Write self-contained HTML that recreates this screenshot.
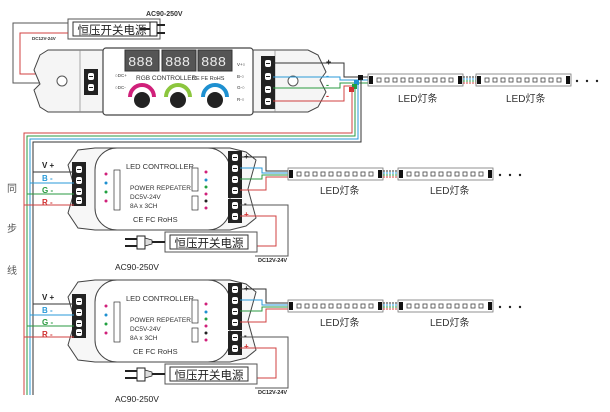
<!DOCTYPE html>
<html><head><meta charset="utf-8"><style>
html,body{margin:0;padding:0;background:#fff;}
svg{display:block;font-family:"Liberation Sans","Noto Sans CJK SC",sans-serif;}
</style></head><body>
<svg width="610" height="412" viewBox="0 0 610 412" xmlns="http://www.w3.org/2000/svg">
<defs>
<g id="term">
  <rect x="0" y="0" width="11" height="11" fill="#222"/>
  <rect x="2.5" y="2" width="6" height="7" rx="2" fill="#fff"/>
  <line x1="3.5" y1="5.5" x2="7.5" y2="5.5" stroke="#222" stroke-width="1"/>
</g>
<g id="strip">
  <rect x="0" y="0" width="95" height="12" fill="#fff" stroke="#777" stroke-width="0.8"/>
  <rect x="1" y="2" width="4" height="8" fill="#111"/>
  <rect x="90" y="2" width="4" height="8" fill="#111"/>
  <g fill="none" stroke="#444" stroke-width="0.8">
    <rect x="9" y="4" width="4" height="4"/><rect x="17" y="4" width="4" height="4"/><rect x="25" y="4" width="4" height="4"/><rect x="33" y="4" width="4" height="4"/><rect x="41" y="4" width="4" height="4"/><rect x="49" y="4" width="4" height="4"/><rect x="57" y="4" width="4" height="4"/><rect x="65" y="4" width="4" height="4"/><rect x="73" y="4" width="4" height="4"/><rect x="81" y="4" width="4" height="4"/>
  </g>
</g>
<g id="psu">
  <rect x="0" y="0" width="92" height="20" fill="#fff" stroke="#555" stroke-width="1"/>
  <rect x="5" y="3" width="78" height="14" fill="#fff" stroke="#333" stroke-width="1"/>
  <text x="44" y="15" font-size="11.5" text-anchor="middle" fill="#222">恒压开关电源</text>
</g>
<g id="slave">
  <!-- outer body -->
  <path d="M68,165 L78,150 L95,148 L230,148 L246,152 L256,160 L248,189 L256,218 L246,226 L230,230 L95,230 L78,228 L68,213 L75,189 Z" fill="#f7f7f7" stroke="#444" stroke-width="1"/>
  <rect x="95" y="148" width="135" height="82" rx="22" fill="#fff" stroke="#444" stroke-width="1"/>
  <rect x="72" y="162" width="14" height="44" fill="#222"/>
  <use href="#term" x="73.5" y="164"/><use href="#term" x="73.5" y="175"/><use href="#term" x="73.5" y="186"/><use href="#term" x="73.5" y="195"/>
  <rect x="228" y="151" width="14" height="47" fill="#222"/>
  <use href="#term" x="229.5" y="152"/><use href="#term" x="229.5" y="163"/><use href="#term" x="229.5" y="174"/><use href="#term" x="229.5" y="185"/>
  <rect x="228" y="199" width="14" height="24" fill="#222"/>
  <use href="#term" x="229.5" y="200"/><use href="#term" x="229.5" y="211"/>
  <text x="126" y="169" font-size="7.5" fill="#333">LED CONTROLLER</text>
  <text x="130" y="190" font-size="6.5" fill="#333">POWER REPEATER</text>
  <text x="130" y="199" font-size="6.5" fill="#333">DC5V-24V</text>
  <text x="130" y="208" font-size="6.5" fill="#333">8A x 3CH</text>
  <text x="133" y="222" font-size="7.5" fill="#333">CE FC RoHS</text>
  <rect x="114" y="170" width="6" height="40" fill="#fff" stroke="#333" stroke-width="0.7"/>
  <rect x="192" y="168" width="6" height="23" fill="#fff" stroke="#333" stroke-width="0.7"/>
  <rect x="192" y="196" width="6" height="14" fill="#fff" stroke="#333" stroke-width="0.7"/>
  <circle cx="106" cy="174" r="1.5" fill="#d0207a"/><circle cx="106" cy="183" r="1.5" fill="#1e90d0"/><circle cx="106" cy="192" r="1.5" fill="#20a040"/><circle cx="106" cy="201" r="1.5" fill="#d0207a"/>
  <circle cx="206" cy="172" r="1.5" fill="#d0207a"/><circle cx="206" cy="180" r="1.5" fill="#1e90d0"/><circle cx="206" cy="187" r="1.5" fill="#20a040"/><circle cx="206" cy="194" r="1.5" fill="#d0207a"/><circle cx="206" cy="201" r="1.5" fill="#222"/><circle cx="206" cy="208" r="1.5" fill="#d0207a"/>
  <!-- input labels -->
  <text x="42" y="168" font-size="8" font-weight="bold" fill="#222">V +</text>
  <text x="42" y="181" font-size="8" font-weight="bold" fill="#2a9ad8">B -</text>
  <text x="42" y="193" font-size="8" font-weight="bold" fill="#2a9a40">G -</text>
  <text x="42" y="205" font-size="8" font-weight="bold" fill="#d03030">R -</text>
  <line x1="33" y1="172" x2="74" y2="172" stroke="#333" stroke-width="1"/>
  <line x1="30" y1="183" x2="74" y2="183" stroke="#2a9ad8" stroke-width="1"/>
  <line x1="27" y1="194" x2="74" y2="194" stroke="#2a9a40" stroke-width="1"/>
  <line x1="24" y1="205" x2="74" y2="205" stroke="#d04040" stroke-width="1"/>
  <!-- output -->
  <text x="244" y="159" font-size="8" font-weight="bold" fill="#222">+</text>
  <text x="244" y="170" font-size="8" font-weight="bold" fill="#2a9ad8">-</text>
  <text x="244" y="181" font-size="8" font-weight="bold" fill="#2a9a40">-</text>
  <text x="244" y="192" font-size="8" font-weight="bold" fill="#d03030">-</text>
  <text x="244" y="206" font-size="8" font-weight="bold" fill="#222">-</text>
  <text x="244" y="217" font-size="8" font-weight="bold" fill="#d03030">+</text>
  <polyline points="240,157 266,157 266,171 290,171" fill="none" stroke="#333" stroke-width="1"/>
  <polyline points="240,168 262,168 262,173 290,173" fill="none" stroke="#2a9ad8" stroke-width="1"/>
  <polyline points="240,179 262,179 262,175 290,175" fill="none" stroke="#2a9a40" stroke-width="1"/>
  <polyline points="240,190 266,190 266,177 290,177" fill="none" stroke="#d04040" stroke-width="1"/>
  <polyline points="240,205 288,205 288,256 255,256" fill="none" stroke="#555" stroke-width="1"/>
  <polyline points="240,216 276,216 276,246 255,246" fill="none" stroke="#d04040" stroke-width="1"/>
  <use href="#strip" x="288" y="168"/>
  <g stroke-width="1">
    <line x1="383" y1="171" x2="400" y2="171" stroke="#333" stroke-dasharray="2,1"/>
    <line x1="383" y1="173" x2="400" y2="173" stroke="#2a9ad8" stroke-dasharray="2,1"/>
    <line x1="383" y1="175" x2="400" y2="175" stroke="#2a9a40" stroke-dasharray="2,1"/>
    <line x1="383" y1="177" x2="400" y2="177" stroke="#d04040" stroke-dasharray="2,1"/>
  </g>
  <use href="#strip" x="398" y="168"/>
  <circle cx="500" cy="175" r="1.2" fill="#222"/><circle cx="510" cy="175" r="1.2" fill="#222"/><circle cx="520" cy="175" r="1.2" fill="#222"/>
  <text x="320" y="194" font-size="10" fill="#333">LED灯条</text>
  <text x="430" y="194" font-size="10" fill="#333">LED灯条</text>
  <use href="#psu" x="165" y="232"/>
  <line x1="150" y1="242" x2="165" y2="242" stroke="#222" stroke-width="2"/>
  <rect x="137" y="236" width="8" height="13" fill="#fff" stroke="#222"/>
  <path d="M145,238 L152,240 L152,244 L145,246 Z" fill="#ddd" stroke="#222" stroke-width="0.7"/>
  <rect x="125" y="238" width="12" height="2" fill="#222"/><rect x="125" y="245" width="12" height="2" fill="#222"/>
  <text x="115" y="270" font-size="8.5" fill="#222">AC90-250V</text>
  <text x="258" y="262" font-size="5.5" font-weight="bold" fill="#222">DC12V-24V</text>
</g>
</defs>

<!-- top PSU -->
<use href="#psu" x="68" y="19"/>
<line x1="140" y1="29" x2="150" y2="29" stroke="#222" stroke-width="2"/>
<rect x="150" y="22" width="7" height="14" fill="#fff" stroke="#222"/>
<rect x="157" y="24" width="8" height="2" fill="#222"/><rect x="157" y="32" width="8" height="2" fill="#222"/>
<text x="146" y="16" font-size="7" font-weight="bold" fill="#333">AC90-250V</text>
<text x="32" y="40" font-size="4.5" font-weight="bold" fill="#333">DC12V-24V</text>
<polyline points="68,23 13,23 13,83 90,83" fill="none" stroke="#555" stroke-width="1"/>
<polyline points="68,33 20,33 20,74 90,74" fill="none" stroke="#d04040" stroke-width="1"/>

<!-- top controller body -->
<path d="M40,55 L48,50 L103,50 L103,112 L48,112 L40,107 L34,90 L40,84 L34,70 Z" fill="#f5f5f5" stroke="#444"/>
<path d="M252,50 L308,50 L318,55 L326,72 L320,80 L326,92 L318,107 L308,112 L252,112 Z" fill="#f5f5f5" stroke="#444"/>
<line x1="80" y1="50" x2="80" y2="112" stroke="#888" stroke-width="0.7"/>
<line x1="275" y1="50" x2="275" y2="112" stroke="#888" stroke-width="0.7"/>
<circle cx="62" cy="81" r="5" fill="#fff" stroke="#555"/>
<circle cx="293" cy="81" r="5" fill="#fff" stroke="#555"/>
<rect x="103" y="48" width="150" height="67" rx="3" fill="#fff" stroke="#444" stroke-width="1.2"/>
<rect x="84" y="69" width="14" height="26" fill="#222"/>
<use href="#term" x="85.5" y="71"/><use href="#term" x="85.5" y="82"/>
<rect x="261" y="56" width="14" height="53" fill="#222"/>
<use href="#term" x="262.5" y="58"/><use href="#term" x="262.5" y="71"/><use href="#term" x="262.5" y="84"/><use href="#term" x="262.5" y="96"/>
<g fill="#555" stroke="#333">
<rect x="125" y="50" width="34" height="21"/><rect x="162" y="50" width="34" height="21"/><rect x="198" y="50" width="34" height="21"/>
</g>
<g font-size="14" fill="#eee" font-family="Liberation Mono">
<text x="128" y="66">888</text><text x="165" y="66">888</text><text x="201" y="66">888</text>
</g>
<text x="136" y="80" font-size="6.5" fill="#333">RGB CONTROLLER</text>
<text x="192" y="80" font-size="5.5" fill="#333">CE FE RoHS</text>
<text x="115" y="77" font-size="4.5" fill="#333">○DC+</text>
<text x="115" y="89" font-size="4.5" fill="#333">○DC-</text>
<text x="237" y="66" font-size="4.5" fill="#333">V+○</text>
<text x="237" y="78" font-size="4.5" fill="#333">B-○</text>
<text x="237" y="89" font-size="4.5" fill="#333">G-○</text>
<text x="237" y="101" font-size="4.5" fill="#333">R-○</text>
<g fill="none" stroke-width="4">
<path d="M130,97 A12,12 0 0 1 154,97" stroke="#d0207a"/>
<path d="M166,97 A12,12 0 0 1 190,97" stroke="#8cc63e"/>
<path d="M203,97 A12,12 0 0 1 227,97" stroke="#1e90d0"/>
</g>
<circle cx="142" cy="100" r="8" fill="#222"/><circle cx="178" cy="100" r="8" fill="#222"/><circle cx="215" cy="100" r="8" fill="#222"/>

<!-- top output wires -->
<text x="326" y="65" font-size="9" font-weight="bold" fill="#222">+</text>
<text x="326" y="79" font-size="9" font-weight="bold" fill="#2a9ad8">-</text>
<text x="326" y="88" font-size="9" font-weight="bold" fill="#2a9a40">-</text>
<text x="326" y="99" font-size="9" font-weight="bold" fill="#d03030">-</text>
<polyline points="273,63 344,63 344,77 370,77" fill="none" stroke="#333"/>
<polyline points="273,77 340,77 340,80 370,80" fill="none" stroke="#2a9ad8"/>
<polyline points="273,88 340,88 340,83 370,83" fill="none" stroke="#2a9a40"/>
<polyline points="273,101 344,101 344,86 352,86" fill="none" stroke="#d04040"/>
<rect x="358" y="75" width="5" height="5" fill="#111"/>
<rect x="354" y="80" width="5" height="5" fill="#1e90d0"/>
<rect x="352" y="84" width="5" height="5" fill="#20a040"/>
<rect x="349" y="87" width="5" height="5" fill="#d03030"/>
<!-- sync trunk -->
<polyline points="352,90 352,133 24,133 24,395" fill="none" stroke="#d04040" stroke-width="1"/>
<polyline points="355,88 355,136 27,136 27,395" fill="none" stroke="#2a9a40" stroke-width="1"/>
<polyline points="358,84 358,139 30,139 30,395" fill="none" stroke="#2a9ad8" stroke-width="1"/>
<polyline points="361,79 361,142 33,142 33,395" fill="none" stroke="#333" stroke-width="1"/>

<use href="#strip" x="368" y="74"/>
<g stroke-width="1">
<line x1="463" y1="77" x2="478" y2="77" stroke="#333" stroke-dasharray="2,1"/>
<line x1="463" y1="79" x2="478" y2="79" stroke="#2a9ad8" stroke-dasharray="2,1"/>
<line x1="463" y1="81" x2="478" y2="81" stroke="#2a9a40" stroke-dasharray="2,1"/>
<line x1="463" y1="83" x2="478" y2="83" stroke="#d04040" stroke-dasharray="2,1"/>
</g>
<use href="#strip" x="476" y="74"/>
<circle cx="577" cy="81" r="1.2" fill="#222"/><circle cx="587" cy="81" r="1.2" fill="#222"/><circle cx="597" cy="81" r="1.2" fill="#222"/>
<text x="398" y="102" font-size="10" fill="#333">LED灯条</text>
<text x="506" y="102" font-size="10" fill="#333">LED灯条</text>

<text x="7" y="192" font-size="10" fill="#555">同</text>
<text x="7" y="232" font-size="10" fill="#555">步</text>
<text x="7" y="274" font-size="10" fill="#555">线</text>

<use href="#slave" x="0" y="0"/>
<use href="#slave" x="0" y="132"/>
</svg>
</body></html>
